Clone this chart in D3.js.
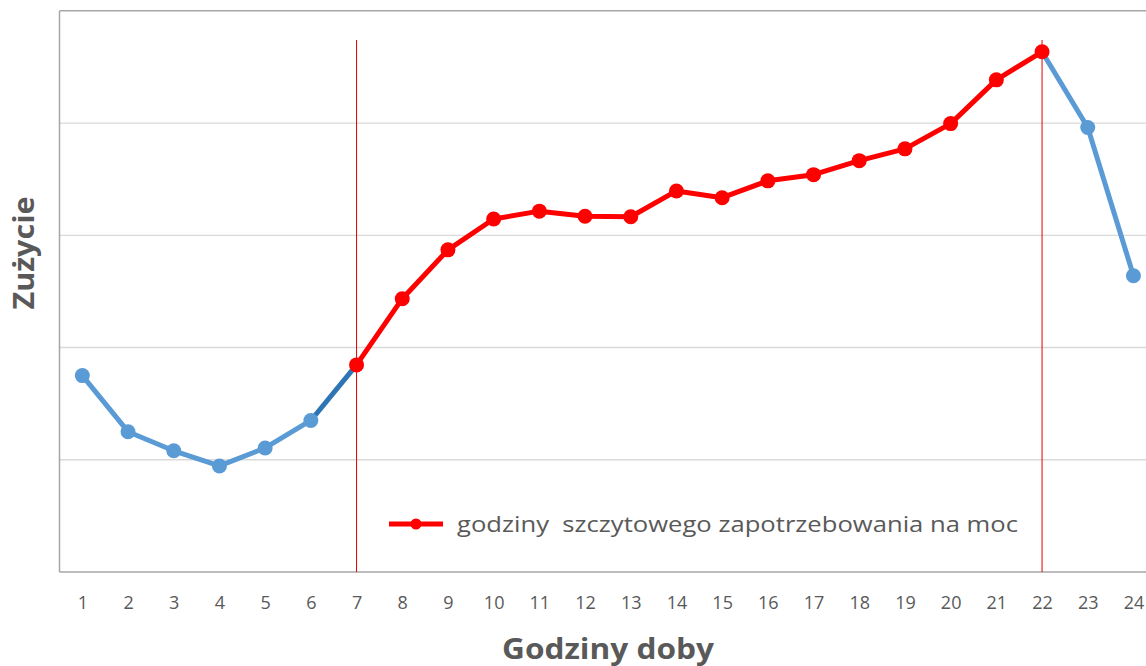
<!DOCTYPE html>
<html><head><meta charset="utf-8">
<script src="https://cdn.jsdelivr.net/npm/d3@7"></script>
<style>body{margin:0;background:#fff}svg{display:block}</style>
</head><body>
<svg id="c" width="1146" height="666"></svg>
<script>
const hours = d3.range(1, 25).map(String);
const usage = [1.75,1.25,1.08,0.945,1.105,1.35,1.845,2.435,2.87,3.145,3.215,3.17,3.165,3.395,3.335,3.485,3.54,3.665,3.77,3.995,4.385,4.635,3.96,2.64];
const peakStart = 7, peakEnd = 22;
const yTicks = [0,1,2,3,4,5];
const legendLabel = "godziny  szczytowego zapotrzebowania na moc";
const xTitle = "Godziny doby", yTitle = "Zużycie";

const svg = d3.select("#c");
const L = 59.5, T = 10.8, B = 572, step = 45.7;
const x = d3.scalePoint().domain(hours).range([L + step/2, L + step/2 + 23*step]);
const y = d3.scaleLinear().domain([0,5]).range([B, T]);
const data = hours.map((h,i)=>({h, v: usage[i], n: i+1}));

// gridlines
svg.append("g").selectAll("line").data(yTicks.slice(1,5)).join("line")
  .attr("x1", L).attr("x2", 1146).attr("y1", d=>y(d)).attr("y2", d=>y(d))
  .attr("stroke", "#d9d9d9").attr("stroke-width", 1.3);
// top border
svg.append("line").attr("x1", L).attr("x2", 1146).attr("y1", y(5)).attr("y2", y(5)).attr("stroke","#a6a6a6").attr("stroke-width",1.5);
svg.append("line").attr("x1", L).attr("x2", L).attr("y1", y(5)).attr("y2", B).attr("stroke","#a6a6a6").attr("stroke-width",1.5);

// x axis
const xa = svg.append("g").attr("transform", `translate(0,${B})`).call(d3.axisBottom(x).tickSize(0).tickPadding(24));
xa.select(".domain").attr("d", `M${L},0H1146`).attr("stroke","#a6a6a6").attr("stroke-width",1.5);
xa.selectAll("text").attr("font-family","Open Sans, sans-serif").attr("font-size",18).attr("fill","#595959");

// vertical peak lines
svg.append("g").selectAll("line").data([peakStart, peakEnd]).join("line")
  .attr("x1", d=>x(String(d))).attr("x2", d=>x(String(d))).attr("y1", 40).attr("y2", B)
  .attr("stroke", "#e00000").attr("stroke-width", 1);

const line = d3.line().x(d=>x(d.h)).y(d=>y(d.v));
const blue1 = data.filter(d=>d.n<=6), blueJoin = data.filter(d=>d.n>=6 && d.n<=7), blue2 = data.filter(d=>d.n>=22);
const red = data.filter(d=>d.n>=peakStart && d.n<=peakEnd);

svg.append("path").datum(blue1).attr("d", line).attr("fill","none").attr("stroke","#5b9bd5").attr("stroke-width",5).attr("stroke-linejoin","round");
svg.append("path").datum(blueJoin).attr("d", line).attr("fill","none").attr("stroke","#2e75b6").attr("stroke-width",5);
svg.append("path").datum(blue2).attr("d", line).attr("fill","none").attr("stroke","#5b9bd5").attr("stroke-width",5).attr("stroke-linejoin","round");
svg.append("g").selectAll("circle").data(data.filter(d=>d.n<peakStart || d.n>peakEnd)).join("circle")
  .attr("cx", d=>x(d.h)).attr("cy", d=>y(d.v)).attr("r", 7.5).attr("fill","#5b9bd5");
svg.append("path").datum(red).attr("d", line).attr("fill","none").attr("stroke","#ff0000").attr("stroke-width",5).attr("stroke-linejoin","round");
svg.append("g").selectAll("circle").data(red).join("circle")
  .attr("cx", d=>x(d.h)).attr("cy", d=>y(d.v)).attr("r", 7.5).attr("fill","#ff0000");

// legend
const lg = svg.append("g").attr("transform","translate(389,524)");
lg.append("line").attr("x1",0).attr("x2",54).attr("y1",0).attr("y2",0).attr("stroke","#ff0000").attr("stroke-width",5);
lg.append("circle").attr("cx",27).attr("cy",0).attr("r",5.5).attr("fill","#ff0000");
lg.append("text").attr("x",68).attr("y",8).attr("xml:space","preserve").style("white-space","pre").text(legendLabel)
  .attr("font-family","Open Sans, sans-serif").attr("font-size",22).attr("fill","#595959")
  .attr("textLength", 561).attr("lengthAdjust","spacingAndGlyphs");

// titles
svg.append("text").attr("x", 608).attr("y", 659).attr("text-anchor","middle").text(xTitle)
  .attr("font-family","Open Sans, sans-serif").attr("font-weight","bold").attr("font-size",28).attr("fill","#595959")
  .attr("textLength", 212).attr("lengthAdjust","spacingAndGlyphs");
svg.append("text").attr("transform","translate(34,253) rotate(-90)").attr("text-anchor","middle").text(yTitle)
  .attr("font-family","Open Sans, sans-serif").attr("font-weight","bold").attr("font-size",28).attr("fill","#595959")
  .attr("textLength", 113).attr("lengthAdjust","spacingAndGlyphs");
</script>
</body></html>
